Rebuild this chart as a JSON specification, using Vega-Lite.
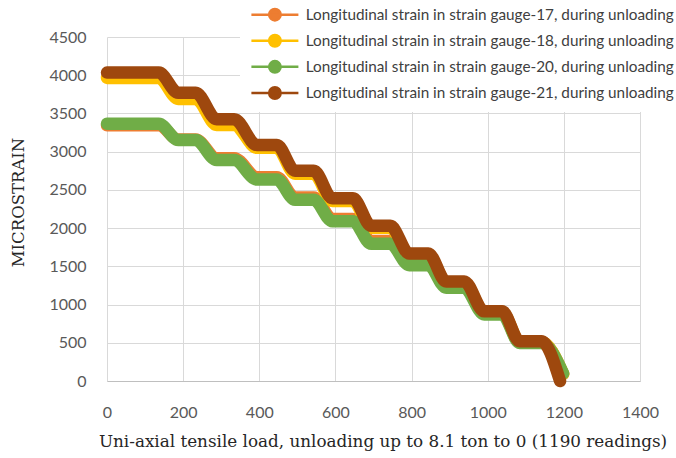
{
"$schema": "https://vega.github.io/schema/vega-lite/v6.json",
"width": 533, "height": 344,
"autosize": {"type": "none"},
"padding": {"left": 107, "top": 37, "right": 36, "bottom": 77},
"background": "white",
"config": {"view": {"stroke": null}, "font": "Lato"},
"data": {"values": [
{"g":"17","x":0,"y":3345},{"g":"17","x":136,"y":3345},{"g":"17","x":187,"y":3160},{"g":"17","x":233,"y":3160},{"g":"17","x":288,"y":2915},{"g":"17","x":334,"y":2915},{"g":"17","x":394,"y":2665},{"g":"17","x":446,"y":2665},{"g":"17","x":494,"y":2400},{"g":"17","x":543,"y":2400},{"g":"17","x":592,"y":2120},{"g":"17","x":646,"y":2120},{"g":"17","x":694,"y":1830},{"g":"17","x":744,"y":1830},{"g":"17","x":794,"y":1545},{"g":"17","x":844,"y":1545},{"g":"17","x":891,"y":1250},{"g":"17","x":938,"y":1250},{"g":"17","x":991,"y":890},{"g":"17","x":1038,"y":890},{"g":"17","x":1084,"y":510},{"g":"17","x":1141,"y":510},{"g":"17","x":1198,"y":90},
{"g":"18","x":0,"y":3965},{"g":"18","x":136,"y":3965},{"g":"18","x":187,"y":3690},{"g":"18","x":233,"y":3690},{"g":"18","x":288,"y":3350},{"g":"18","x":334,"y":3350},{"g":"18","x":394,"y":3050},{"g":"18","x":446,"y":3050},{"g":"18","x":494,"y":2710},{"g":"18","x":543,"y":2710},{"g":"18","x":592,"y":2355},{"g":"18","x":646,"y":2355},{"g":"18","x":694,"y":2005},{"g":"18","x":744,"y":2005},{"g":"18","x":794,"y":1650},{"g":"18","x":844,"y":1650},{"g":"18","x":891,"y":1290},{"g":"18","x":938,"y":1290},{"g":"18","x":991,"y":900},{"g":"18","x":1038,"y":900},{"g":"18","x":1084,"y":510},{"g":"18","x":1141,"y":510},{"g":"18","x":1198,"y":90},
{"g":"20","x":0,"y":3365},{"g":"20","x":136,"y":3365},{"g":"20","x":187,"y":3152},{"g":"20","x":233,"y":3152},{"g":"20","x":288,"y":2890},{"g":"20","x":334,"y":2890},{"g":"20","x":394,"y":2635},{"g":"20","x":446,"y":2635},{"g":"20","x":494,"y":2370},{"g":"20","x":543,"y":2370},{"g":"20","x":592,"y":2090},{"g":"20","x":646,"y":2090},{"g":"20","x":694,"y":1795},{"g":"20","x":744,"y":1795},{"g":"20","x":794,"y":1515},{"g":"20","x":844,"y":1515},{"g":"20","x":891,"y":1220},{"g":"20","x":938,"y":1220},{"g":"20","x":991,"y":870},{"g":"20","x":1038,"y":870},{"g":"20","x":1084,"y":498},{"g":"20","x":1141,"y":498},{"g":"20","x":1198,"y":100},
{"g":"21","x":0,"y":4035},{"g":"21","x":136,"y":4035},{"g":"21","x":187,"y":3770},{"g":"21","x":233,"y":3770},{"g":"21","x":288,"y":3425},{"g":"21","x":334,"y":3425},{"g":"21","x":394,"y":3086},{"g":"21","x":446,"y":3086},{"g":"21","x":494,"y":2750},{"g":"21","x":543,"y":2750},{"g":"21","x":592,"y":2390},{"g":"21","x":646,"y":2390},{"g":"21","x":694,"y":2030},{"g":"21","x":744,"y":2030},{"g":"21","x":794,"y":1668},{"g":"21","x":844,"y":1668},{"g":"21","x":891,"y":1303},{"g":"21","x":938,"y":1303},{"g":"21","x":991,"y":911},{"g":"21","x":1038,"y":911},{"g":"21","x":1084,"y":520},{"g":"21","x":1141,"y":520},{"g":"21","x":1190,"y":0}
]},
"mark": {"type": "line", "strokeWidth": 12.5, "strokeCap": "round", "strokeJoin": "round", "interpolate": "monotone", "clip": false},
"encoding": {
  "x": {"field": "x", "type": "quantitative",
    "scale": {"domain": [0, 1400], "nice": false, "zero": false},
    "axis": {"values": [0,200,400,600,800,1000,1200,1400], "format": "d", "grid": true, "gridColor": "#d9d9d9", "gridWidth": 1,
      "ticks": false, "domain": true, "domainColor": "#bfbfbf", "domainWidth": 1, "labelFlush": false, "labelOverlap": false,
      "labelFont": "Lato", "labelFontSize": 16, "labelColor": "#595959", "labelPadding": 23,
      "title": "Uni-axial tensile load, unloading up to 8.1 ton to 0 (1190 readings)",
      "titleFont": "DejaVu Serif", "titleFontSize": 16.8, "titleFontWeight": "normal", "titleColor": "#262626",
      "titleX": 275.5, "titleY": 60.5, "titleBaseline": "middle", "titleAnchor": "middle", "titleAlign": "center"}},
  "y": {"field": "y", "type": "quantitative",
    "scale": {"domain": [0, 4500], "nice": false},
    "axis": {"values": [0,500,1000,1500,2000,2500,3000,3500,4000,4500], "format": "d", "grid": true, "gridColor": "#d9d9d9", "gridWidth": 1,
      "ticks": false, "domain": false, "labelFlush": false, "labelOverlap": false,
      "labelFont": "Lato", "labelFontSize": 16, "labelColor": "#595959", "labelPadding": 21,
      "title": "MICROSTRAIN",
      "titleFont": "DejaVu Serif", "titleFontSize": 16.5, "titleFontWeight": "normal", "titleColor": "#262626",
      "titleX": -89, "titleY": 165, "titleBaseline": "middle", "titleAlign": "center", "titleAngle": -90}},
  "color": {"field": "g", "type": "nominal",
    "scale": {"domain": ["17","18","20","21"], "range": ["#ED7D31","#FFC000","#70AD47","#9E480E"]},
    "legend": {"orient": "none", "legendX": 133, "legendY": -38, "padding": 8, "fillColor": "white",
      "title": null,
      "labelExpr": "'Longitudinal strain in strain gauge-' + datum.label + ', during unloading'",
      "symbolType": "M-0.85,0H8.55M2.7,0A1.15,1.15,0,1,0,5,0A1.15,1.15,0,1,0,2.7,0Z",
      "symbolSize": 100, "symbolStrokeWidth": 2.5,
      "labelFont": "Lato", "labelFontSize": 15.3, "labelColor": "#404040", "labelOffset": 42.5,
      "rowPadding": 3.1, "labelLimit": 0,
      "encode": {"symbols": {"update": {"fill": {"scale": "color", "field": "value"}, "stroke": {"scale": "color", "field": "value"}}}}}}
}
}
